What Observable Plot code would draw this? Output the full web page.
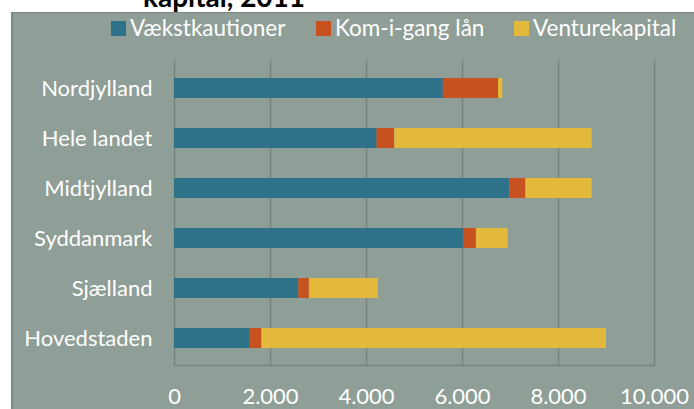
<!DOCTYPE html>
<html>
<head>
<meta charset="utf-8">
<script src="https://cdn.jsdelivr.net/npm/d3@7"></script>
<script src="https://cdn.jsdelivr.net/npm/@observablehq/plot@0.6"></script>
<style>
  html, body { margin: 0; padding: 0; background: #ffffff; }
  #wrap { position: relative; width: 694px; height: 409px; overflow: hidden; font-family: Lato, "Open Sans", sans-serif; }
  #title { position: absolute; left: 143px; top: -18px; font-size: 28px; font-weight: bold; color: #000; white-space: nowrap; z-index: 0; font-family: Lato, sans-serif; line-height: 28px; }
  #panel { position: absolute; left: 11px; top: 12px; width: 690px; height: 400px; background: #8f9e96; border-left: 2px solid #7c8781; border-top: 1px solid #7c8781; z-index: 1; }
  #legend { position: absolute; top: 15px; left: 111px; z-index: 3; color: #ffffff; font-size: 22.5px; }
  #legend .item { display: flex; align-items: center; position: absolute; top: 0; white-space: nowrap; height: 26px; line-height: 26px; }
  #legend .sw { width: 15px; height: 15px; margin-right: 4px; }
  #chart { position: absolute; left: 0; top: 0; z-index: 2; }
</style>
</head>
<body>
<div id="wrap">
  <div id="title">kapital, 2011</div>
  <div id="panel"></div>
  <div id="legend"></div>
  <div id="chart"></div>
</div>
<script>
const regions = ["Nordjylland", "Hele landet", "Midtjylland", "Syddanmark", "Sjælland", "Hovedstaden"];
const series = ["Vækstkautioner", "Kom-i-gang lån", "Venturekapital"];
const colors = ["#2e728a", "#c8521f", "#e3b93c"];
const vaekst = [5600, 4220, 6990, 6020, 2590, 1580];
const komigang = [1150, 370, 330, 270, 220, 240];
const venture = [90, 4110, 1380, 660, 1440, 7180];
const xTicks = [0, 2000, 4000, 6000, 8000, 10000];

const values = [vaekst, komigang, venture];
const data = [];
regions.forEach((r, i) => {
  series.forEach((s, j) => data.push({region: r, series: s, value: values[j][i]}));
});

// legend
const legendOffsets = [0, 205, 403];
const legend = document.getElementById("legend");
series.forEach((s, j) => {
  const it = document.createElement("div");
  it.className = "item";
  it.style.left = legendOffsets[j] + "px";
  const sw = document.createElement("span");
  sw.className = "sw";
  sw.style.background = colors[j];
  const tx = document.createElement("span");
  tx.textContent = s;
  it.appendChild(sw); it.appendChild(tx);
  legend.appendChild(it);
});

const fmt = d => d3.format(",")(d).replace(/,/g, ".");

const chart = Plot.plot({
  width: 694,
  height: 409,
  marginLeft: 174,
  marginRight: 40,
  marginTop: 60,
  marginBottom: 44,
  style: { background: "transparent", fontFamily: "Lato, sans-serif", fontSize: "22px", color: "#ffffff" },
  x: { domain: [0, 10000], ticks: xTicks, tickFormat: fmt, label: null },
  y: { domain: regions, paddingInner: 0.6, paddingOuter: 0.3, label: null },
  color: { domain: series, range: colors },
  marks: [
    Plot.gridX(xTicks, { stroke: "#7b827e", strokeOpacity: 1, strokeWidth: 1.5 }),
    Plot.frame({ anchor: "bottom", stroke: "#7b827e", strokeWidth: 1.5 }),
    Plot.barX(data, Plot.stackX({ x: "value", y: "region", fill: "series", order: series })),
    Plot.axisX(xTicks, { tickSize: 0, tickPadding: 23, tickFormat: fmt, fill: "#ffffff", fontSize: 22, label: null }),
    Plot.axisY({ tickSize: 0, tickPadding: 22, fill: "#ffffff", fontSize: 22, label: null })
  ]
});
document.getElementById("chart").appendChild(chart);
</script>
</body>
</html>
